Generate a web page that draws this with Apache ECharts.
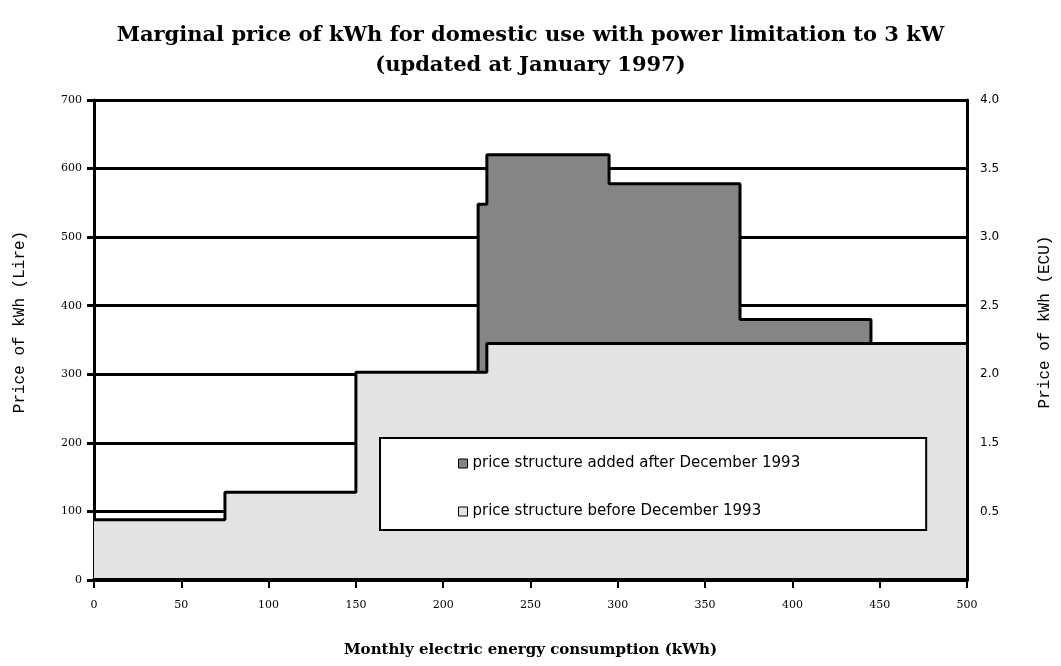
<!DOCTYPE html>
<html>
<head>
<meta charset="utf-8">
<script src="https://cdn.jsdelivr.net/npm/echarts@6/dist/echarts.min.js"></script>
<style>
html,body{margin:0;padding:0;background:#fff;}
#chart{width:1061px;height:666px;}
</style>
</head>
<body>
<div id="chart"></div>
<script>
// Monthly consumption breakpoints (kWh) and marginal price (Lire/kWh)
const consumptionBefore = [0, 75, 150, 225, 500];
const priceBefore = [88, 128, 303, 345, 345];
const consumptionAdded = [220, 220, 225, 295, 370, 445, 445];
const priceAdded = [0, 548, 620, 578, 380, 380, 0];
const lireTicks = [0, 100, 200, 300, 400, 500, 600, 700];
const ecuTickLabels = ['', '0.5', '1.5', '2.0', '2.5', '3.0', '3.5', '4.0'];
const nameAdded = 'price structure added after December 1993';
const nameBefore = 'price structure before December 1993';

const pairs = (xs, ys) => xs.map((x, i) => [x, ys[i]]);
const serif = 'DejaVu Serif';
const chart = echarts.init(document.getElementById('chart'));
chart.setOption({
  animation: false,
  backgroundColor: '#ffffff',
  title: {
    text: 'Marginal price of kWh for domestic use with power limitation to 3 kW\n(updated at January 1997)',
    left: 'center',
    top: 16,
    textStyle: { fontFamily: serif, fontWeight: 'bold', fontSize: 21, lineHeight: 30, color: '#000' }
  },
  grid: { left: 94, right: 91, top: 100, bottom: 86 },
  legend: {
    orient: 'vertical',
    left: 380,
    top: 438,
    data: [
      { name: nameAdded, itemStyle: { color: '#858585', borderColor: '#000', borderWidth: 1 } },
      { name: nameBefore, itemStyle: { color: '#e3e3e3', borderColor: '#000', borderWidth: 1 } }
    ],
    icon: 'rect',
    itemWidth: 9,
    itemHeight: 9,
    itemGap: 33,
    padding: [18, 126, 11, 78],
    backgroundColor: '#fff',
    borderColor: '#000',
    borderWidth: 2,
    textStyle: { fontFamily: 'DejaVu Sans', fontSize: 15, color: '#000' }
  },
  xAxis: {
    type: 'value',
    min: 0, max: 500, interval: 50,
    z: 3,
    name: 'Monthly electric energy consumption (kWh)',
    nameLocation: 'middle',
    nameGap: 63,
    nameTextStyle: { fontFamily: serif, fontWeight: 'bold', fontSize: 15, color: '#000' },
    axisLine: { lineStyle: { color: '#000', width: 4 } },
    axisTick: { length: 8, lineStyle: { color: '#000', width: 2 } },
    axisLabel: { margin: 20, fontFamily: serif, fontSize: 11, color: '#000' },
    splitLine: { show: false }
  },
  yAxis: [
    {
      type: 'value',
      position: 'left',
      min: 0, max: 700, interval: 100,
      name: 'Price of kWh (Lire)',
      nameLocation: 'middle',
      nameRotate: 90,
      nameGap: 66,
      nameTextStyle: { fontFamily: 'Liberation Mono', fontSize: 16, color: '#000', padding: [0, 0, 0, 36] },
      axisLine: { show: true, lineStyle: { color: '#000', width: 3 } },
      axisTick: { show: true, length: 7, lineStyle: { color: '#000', width: 3 } },
      axisLabel: { margin: 12, fontFamily: serif, fontSize: 11, color: '#000',
        formatter: v => lireTicks.includes(v) ? String(v) : '' },
      splitLine: { show: true, lineStyle: { color: '#000', width: 3 } }
    },
    {
      type: 'value',
      position: 'right',
      min: 0, max: 700, interval: 100,
      z: 3,
      name: 'Price of kWh (ECU)',
      nameLocation: 'middle',
      nameRotate: 90,
      nameGap: 70,
      nameTextStyle: { fontFamily: 'Liberation Mono', fontSize: 16, color: '#000', padding: [0, 0, 0, 36] },
      axisLine: { show: true, lineStyle: { color: '#000', width: 3 } },
      axisTick: { show: false },
      axisLabel: { margin: 13, fontFamily: 'DejaVu Sans', fontSize: 12, color: '#000',
        formatter: v => ecuTickLabels[Math.round(v / 100)] || '' },
      splitLine: { show: false }
    }
  ],
  series: [
    {
      name: nameAdded,
      type: 'line',
      step: 'end',
      z: 1,
      showSymbol: false,
      symbol: 'none',
      data: pairs(consumptionAdded, priceAdded),
      itemStyle: { color: '#858585' },
      lineStyle: { color: '#000', width: 3 },
      areaStyle: { color: '#858585', opacity: 1 }
    },
    {
      name: nameBefore,
      type: 'line',
      step: 'end',
      z: 2,
      showSymbol: false,
      symbol: 'none',
      data: pairs(consumptionBefore, priceBefore),
      itemStyle: { color: '#e3e3e3' },
      lineStyle: { color: '#000', width: 3 },
      areaStyle: { color: '#e3e3e3', opacity: 1 }
    }
  ]
});
</script>
</body>
</html>
